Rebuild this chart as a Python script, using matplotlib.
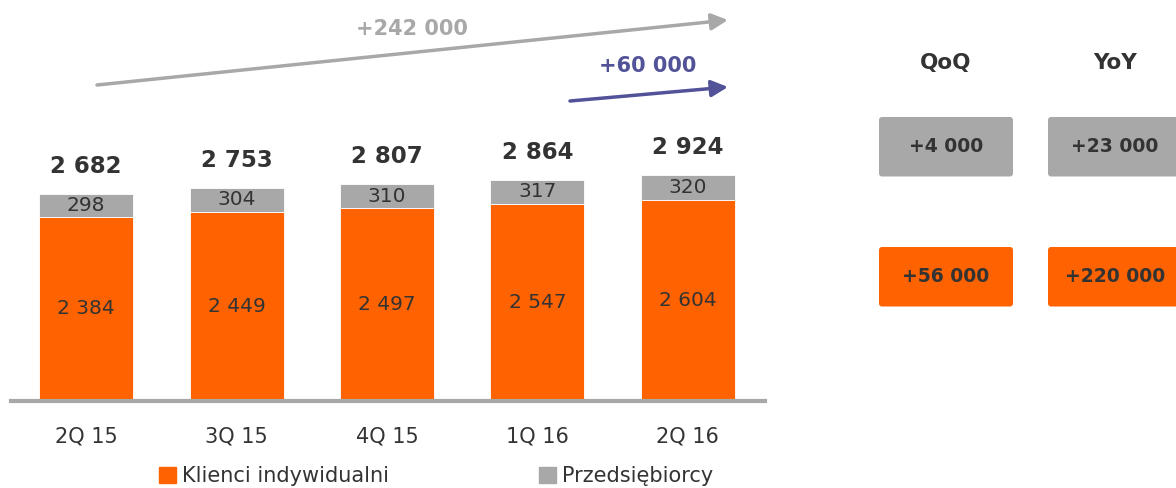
import matplotlib
matplotlib.use("Agg")
import matplotlib.pyplot as plt
import numpy as np
from matplotlib.patches import FancyBboxPatch
from matplotlib.transforms import IdentityTransform

# data (thousands of clients)
quarters = ["2Q 15", "3Q 15", "4Q 15", "1Q 16", "2Q 16"]
individuals = [2384, 2449, 2497, 2547, 2604]
business = [298, 304, 310, 317, 320]
series_names = ["Klienci indywidualni", "Przedsiębiorcy"]
growth_total = "+242 000"
growth_qoq = "+60 000"
headers = ["QoQ", "YoY"]
change_business = ["+4 000", "+23 000"]
change_individuals = ["+56 000", "+220 000"]

ORANGE = "#FF6200"
GREY = "#A8A8A8"
DARK = "#333333"
PURPLE = "#525299"

plt.rcParams["font.family"] = ["DejaVu Sans"]

W, H = 1176, 488
fig = plt.figure(figsize=(W / 100, H / 100), dpi=100)


def fmt(v):
    return f"{v:,}".replace(",", " ")


def px(x, y):
    # image pixel (top-left origin) -> figure fraction
    return x / W, 1 - y / H


# main bar axes
ax = fig.add_axes([11 / W, (H - 400.5) / H, (765 - 11) / W, 300.5 / H])
x = np.arange(len(quarters))
totals = [a + b for a, b in zip(individuals, business)]

ax.bar(x, individuals, width=0.625, color=ORANGE, edgecolor="white", linewidth=0.6)
ax.bar(x, business, bottom=individuals, width=0.625, color=GREY, edgecolor="white", linewidth=0.6)

for i in range(len(x)):
    ax.text(x[i], individuals[i] / 2, fmt(individuals[i]), ha="center", va="center",
            fontsize=14.5, color=DARK)
    ax.text(x[i], individuals[i] + business[i] / 2, fmt(business[i]), ha="center",
            va="center", fontsize=14.5, color=DARK)
    ax.annotate(fmt(totals[i]), (x[i], totals[i]), xytext=(0, 15), textcoords="offset points",
                ha="center", va="baseline", fontsize=16.5, fontweight="bold", color=DARK)

ax.set_xlim(-0.5, 4.513)
ax.set_ylim(0, 3898)
ax.set_yticks([])
ax.set_xticks(x)
ax.set_xticklabels(quarters, fontsize=15, color=DARK)
ax.tick_params(axis="x", length=0, pad=19)
for s in ["top", "right", "left"]:
    ax.spines[s].set_visible(False)
ax.spines["bottom"].set_color(GREY)
ax.spines["bottom"].set_linewidth(3)
ax.set_facecolor("none")

# legend
fig.legend(handles=[plt.Rectangle((0, 0), 1, 1, color=ORANGE),
                    plt.Rectangle((0, 0), 1, 1, color=GREY)],
           labels=series_names, loc="center", bbox_to_anchor=(px(436, 476)),
           ncol=2, frameon=False, fontsize=15, handlelength=0.8, handleheight=0.8,
           handletextpad=0.3, columnspacing=7.2, labelcolor=DARK, borderpad=0)

# growth arrows
ax.annotate("", xy=(728, H - 20), xycoords="figure pixels", xytext=(97, H - 85),
            textcoords="figure pixels",
            arrowprops=dict(arrowstyle="-|>,head_length=1.0,head_width=0.5",
                            color=GREY, lw=2.5, shrinkA=0, shrinkB=0))
ax.annotate("", xy=(728, H - 87), xycoords="figure pixels", xytext=(570, H - 101),
            textcoords="figure pixels",
            arrowprops=dict(arrowstyle="-|>,head_length=1.0,head_width=0.5",
                            color=PURPLE, lw=2.5, shrinkA=0, shrinkB=0))
fig.text(*px(412, 29), growth_total, ha="center", va="center", fontsize=15,
         fontweight="bold", color=GREY)
fig.text(*px(648, 66), growth_qoq, ha="center", va="center", fontsize=15,
         fontweight="bold", color=PURPLE)

# QoQ / YoY boxes
col_x = [879, 1048]
box_w, box_h = 134, 59.5
rows = [(117, GREY, change_business), (247, ORANGE, change_individuals)]
for j, head in enumerate(headers):
    cx = col_x[j] + box_w / 2
    fig.text(*px(cx, 63), head, ha="center", va="center", fontsize=15.5,
             fontweight="bold", color=DARK)
    for top, col, labels in rows:
        fig.add_artist(FancyBboxPatch((col_x[j], H - top - box_h), box_w, box_h,
                                      boxstyle="round,pad=0,rounding_size=3",
                                      facecolor=col, edgecolor="none",
                                      transform=IdentityTransform()))
        fig.text(*px(cx, top + box_h / 2), labels[j], ha="center", va="center",
                 fontsize=13.5, fontweight="bold", color=DARK)

fig.savefig("out.png", dpi=100)
